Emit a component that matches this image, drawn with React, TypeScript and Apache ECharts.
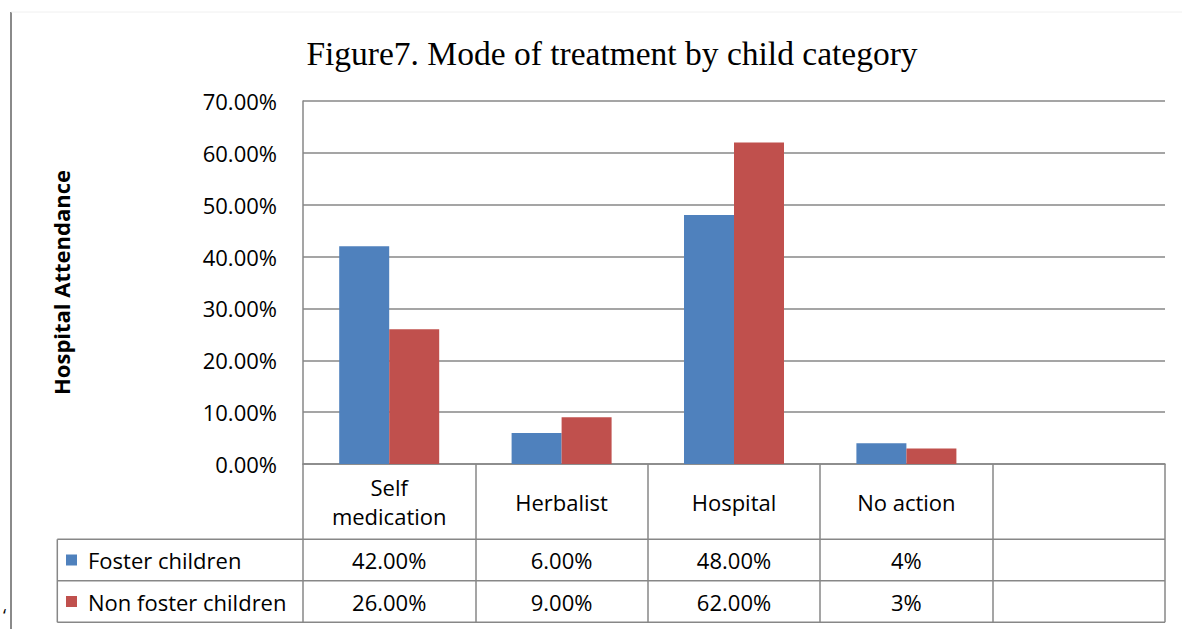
import React, { useEffect, useRef } from "react";
import * as echarts from "echarts";

// ---- data ----
const categories = ["Self\nmedication", "Herbalist", "Hospital", "No action", ""];
const fosterValues = [42, 6, 48, 4, null];
const nonFosterValues = [26, 9, 62, 3, null];
const fosterTableLabels = ["42.00%", "6.00%", "48.00%", "4%", ""];
const nonFosterTableLabels = ["26.00%", "9.00%", "62.00%", "3%", ""];
const seriesNames = ["Foster children", "Non foster children"];
const yMin = 0;
const yMax = 70;
const yInterval = 10;
const titleText = "Figure7. Mode of treatment by child category";
const yAxisTitle = "Hospital Attendance";

const BLUE = "#4F81BD";
const RED = "#C0504D";
const LINE = "#878787";
const FONT = "'Open Sans', sans-serif";

// layout
const GRID_LEFT = 303;
const GRID_RIGHT_X = 1165;
const GRID_TOP = 101;
const GRID_BOTTOM_Y = 464;
const ROW1 = 539.3;
const ROW2 = 580.7;
const ROW3 = 622.3;
const TABLE_LEFT = 57.3;

export default function App() {
  const ref = useRef<HTMLDivElement>(null);
  useEffect(() => {
    if (!ref.current) return;
    const chart = echarts.init(ref.current, undefined, { renderer: "svg" });
    const W = 1182;
    const H = 629;
    const labelStyle = { fontFamily: FONT, fontSize: 22, color: "#000" };
    const option: any = {
      animation: false,
      backgroundColor: "#fff",
      textStyle: { fontFamily: FONT },
      grid: {
        left: GRID_LEFT,
        right: W - GRID_RIGHT_X,
        top: GRID_TOP,
        bottom: H - GRID_BOTTOM_Y,
        containLabel: false,
        outerBoundsMode: "none",
      },
      legend: [
        {
          data: [seriesNames[0]],
          orient: "vertical",
          left: 66,
          top: 549,
          padding: 0,
          icon: "rect",
          itemWidth: 11,
          itemHeight: 11,
          selectedMode: false,
          textStyle: { ...labelStyle, lineHeight: 22, padding: [0, 0, 0, 6] },
        },
        {
          data: [seriesNames[1]],
          orient: "vertical",
          left: 66,
          top: 590.5,
          padding: 0,
          icon: "rect",
          itemWidth: 11,
          itemHeight: 11,
          selectedMode: false,
          textStyle: { ...labelStyle, lineHeight: 22, padding: [0, 0, 0, 6] },
        },
      ],
      xAxis: [
        {
          type: "category",
          data: categories,
          boundaryGap: true,
          axisLine: { show: true, lineStyle: { color: LINE, width: 1.5 } },
          axisTick: {
            show: true,
            length: ROW3 - GRID_BOTTOM_Y,
            inside: false,
            lineStyle: { color: LINE, width: 1.5 },
          },
          axisLabel: {
            ...labelStyle,
            interval: 0,
            margin: (ROW1 - GRID_BOTTOM_Y) / 2,
            verticalAlign: "middle",
            lineHeight: 29,
          },
          splitLine: { show: false },
        },
        {
          type: "category",
          data: fosterTableLabels,
          position: "bottom",
          offset: 0,
          axisLine: { show: false },
          axisTick: { show: false },
          axisLabel: {
            ...labelStyle,
            interval: 0,
            margin: (ROW1 + ROW2) / 2 - GRID_BOTTOM_Y,
            verticalAlign: "middle",
          },
        },
        {
          type: "category",
          data: nonFosterTableLabels,
          position: "bottom",
          offset: 0,
          axisLine: { show: false },
          axisTick: { show: false },
          axisLabel: {
            ...labelStyle,
            interval: 0,
            margin: (ROW2 + ROW3) / 2 - GRID_BOTTOM_Y,
            verticalAlign: "middle",
          },
        },
      ],
      yAxis: {
        type: "value",
        min: yMin,
        max: yMax,
        interval: yInterval,
        name: yAxisTitle,
        nameLocation: "middle",
        nameRotate: 90,
        nameGap: 231,
        nameTextStyle: { fontFamily: FONT, fontSize: 22, fontWeight: "bold", color: "#000" },
        axisLine: { show: true, lineStyle: { color: LINE, width: 1.5 } },
        axisTick: { show: false },
        axisLabel: {
          ...labelStyle,
          margin: 26,
          formatter: (v: number) => v.toFixed(2) + "%",
        },
        splitLine: { show: true, lineStyle: { color: LINE, width: 1.5 } },
      },
      series: [
        {
          name: seriesNames[0],
          type: "bar",
          data: fosterValues,
          barWidth: 50,
          barGap: "0%",
          itemStyle: { color: BLUE },
          xAxisIndex: 0,
        },
        {
          name: seriesNames[1],
          type: "bar",
          data: nonFosterValues,
          barWidth: 50,
          barGap: "0%",
          itemStyle: { color: RED },
          xAxisIndex: 0,
        },
      ],
      graphic: [
        {
          type: "text",
          x: 612,
          y: 53,
          style: {
            text: titleText,
            fontFamily: "'Liberation Serif', 'Times New Roman', serif",
            fontSize: 33.5,
            fill: "#000",
            align: "center",
            verticalAlign: "middle",
            textAlign: "center",
            textVerticalAlign: "middle",
          },
        },
        // outer frame
        { type: "line", shape: { x1: 11, y1: 12, x2: 11, y2: H }, style: { stroke: "#8a8a8a", lineWidth: 2 } },
        { type: "line", shape: { x1: 11, y1: 12, x2: W, y2: 12 }, style: { stroke: "#f0f0f0", lineWidth: 1 } },
        // table horizontal rules
        { type: "line", shape: { x1: TABLE_LEFT, y1: ROW1, x2: GRID_RIGHT_X, y2: ROW1 }, style: { stroke: LINE, lineWidth: 1.5 } },
        { type: "line", shape: { x1: TABLE_LEFT, y1: ROW2, x2: GRID_RIGHT_X, y2: ROW2 }, style: { stroke: LINE, lineWidth: 1.5 } },
        { type: "line", shape: { x1: TABLE_LEFT, y1: ROW3, x2: GRID_RIGHT_X, y2: ROW3 }, style: { stroke: LINE, lineWidth: 1.5 } },
        { type: "line", shape: { x1: TABLE_LEFT, y1: ROW1, x2: TABLE_LEFT, y2: ROW3 }, style: { stroke: LINE, lineWidth: 1.5 } },
        {
          type: "text",
          x: 3,
          y: 606,
          style: { text: "\u2018", fontFamily: FONT, fontSize: 18, fill: "#000" },
        },
      ],
    };
    chart.setOption(option);
    return () => chart.dispose();
  }, []);
  return (
    <div
      ref={ref}
      style={{ position: "absolute", left: 0, top: 0, width: 1182, height: 629 }}
    />
  );
}
